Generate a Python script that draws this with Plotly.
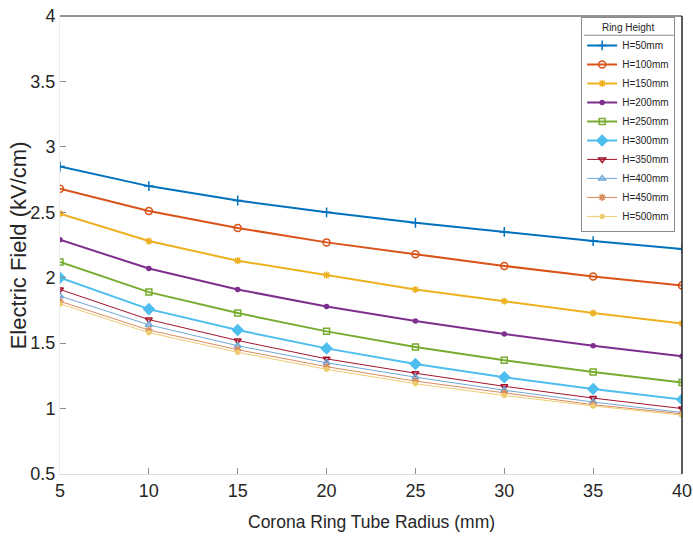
import plotly.graph_objects as go

radius = [5, 10, 15, 20, 25, 30, 35, 40]
labels = ["H=50mm", "H=100mm", "H=150mm", "H=200mm", "H=250mm",
          "H=300mm", "H=350mm", "H=400mm", "H=450mm", "H=500mm"]
h50 = [2.85, 2.70, 2.59, 2.50, 2.42, 2.35, 2.28, 2.22]
h100 = [2.68, 2.51, 2.38, 2.27, 2.18, 2.09, 2.01, 1.94]
h150 = [2.49, 2.28, 2.13, 2.02, 1.91, 1.82, 1.73, 1.65]
h200 = [2.29, 2.07, 1.91, 1.78, 1.67, 1.57, 1.48, 1.40]
h250 = [2.12, 1.89, 1.73, 1.59, 1.47, 1.37, 1.28, 1.20]
h300 = [2.00, 1.76, 1.60, 1.46, 1.34, 1.24, 1.15, 1.07]
h350 = [1.91, 1.68, 1.52, 1.38, 1.27, 1.17, 1.08, 1.00]
h400 = [1.86, 1.64, 1.48, 1.35, 1.24, 1.14, 1.05, 0.97]
h450 = [1.82, 1.60, 1.45, 1.32, 1.21, 1.12, 1.03, 0.96]
h500 = [1.80, 1.58, 1.43, 1.30, 1.19, 1.10, 1.02, 0.95]
series = [h50, h100, h150, h200, h250, h300, h350, h400, h450, h500]

colors = ["#0072BD", "#D95319", "#EDB120", "#7E2F8E", "#77AC30",
          "#4DBEEE", "#A2142F", "#6FA8D6", "#D98A5C", "#F0CC70"]
symbols = ["cross-thin", "circle-open", "asterisk", "circle", "square-open",
           "diamond", "triangle-down-open", "triangle-up-open", "asterisk", "circle"]
msizes = [7, 7, 6, 4, 6, 8, 6, 6, 6, 4]
widths = [2, 2, 2, 2, 2, 2, 1, 1, 1, 1]

FONT = "Liberation Sans, Arial, sans-serif"

fig = go.Figure()
for name, ys, c, s, ms, w in zip(labels, series, colors, symbols, msizes, widths):
    fig.add_trace(go.Scatter(
        x=radius, y=ys, name=name, mode="lines+markers",
        line=dict(color=c, width=w),
        marker=dict(symbol=s, size=ms, color=c, line=dict(color=c, width=1.5)),
    ))

fig.update_layout(
    width=693, height=540,
    margin=dict(l=60, r=11, t=16, b=66),
    paper_bgcolor="white", plot_bgcolor="white",
    font=dict(family=FONT, color="#262626"),
    showlegend=True,
    legend=dict(
        title=dict(text="Ring Height", font=dict(size=10, family=FONT), side="top center"),
        font=dict(size=10, family=FONT, color="#262626"),
        x=0.989, xanchor="right", y=0.998, yanchor="top",
        bgcolor="rgba(255,255,255,0)", bordercolor="#8c8c8c", borderwidth=1,
        itemwidth=30, tracegroupgap=0,
    ),
    xaxis=dict(
        range=[5, 40], tickvals=[5, 10, 15, 20, 25, 30, 35, 40],
        showgrid=False, zeroline=False, automargin=False,
        showline=True, linecolor="#dcdcdc", linewidth=1, mirror=False,
        ticks="inside", ticklen=6, tickcolor="#8c8c8c",
        ticklabeloverflow="allow",
        tickfont=dict(size=18, family=FONT, color="#262626"),
    ),
    yaxis=dict(
        range=[0.5, 4], tickvals=[0.5, 1, 1.5, 2, 2.5, 3, 3.5, 4],
        ticktext=["0.5", "1", "1.5", "2", "2.5", "3", "3.5", "4"],
        showgrid=False, zeroline=False, automargin=False,
        showline=True, linecolor="#ececec", linewidth=1, mirror=False,
        ticks="inside", ticklen=6, tickcolor="#8c8c8c",
        tickfont=dict(size=18, family=FONT, color="#262626"),
    ),
)

# axis titles
fig.add_annotation(text="Corona Ring Tube Radius (mm)", xref="paper", yref="paper",
                   x=0.5, y=-0.105, xanchor="center", yanchor="middle", showarrow=False,
                   font=dict(size=17.5, family=FONT, color="#262626"))
fig.add_annotation(text="Electric Field (kV/cm)", xref="paper", yref="paper",
                   x=-0.067, y=0.5, xanchor="center", yanchor="middle", showarrow=False,
                   textangle=-90, font=dict(size=22, family=FONT, color="#262626"))

# white backing for the legend, drawn below the data
fig.add_shape(type="rect", xref="paper", yref="paper", x0=0.84, x1=0.989, y0=0.55, y1=0.998,
              layer="below", line=dict(width=0), fillcolor="white")
# dark top and right box edges
fig.add_shape(type="line", xref="paper", yref="paper", x0=0, x1=1, y0=1, y1=1,
              line=dict(color="#262626", width=1))
fig.add_shape(type="line", xref="paper", yref="paper", x0=1, x1=1, y0=0, y1=1,
              line=dict(color="#262626", width=1.5))
# separator under legend title
fig.add_shape(type="line", xref="paper", yref="paper", x0=0.842, x1=0.987, y0=0.958, y1=0.958,
              line=dict(color="#8c8c8c", width=1))

fig.write_html("out.html")
